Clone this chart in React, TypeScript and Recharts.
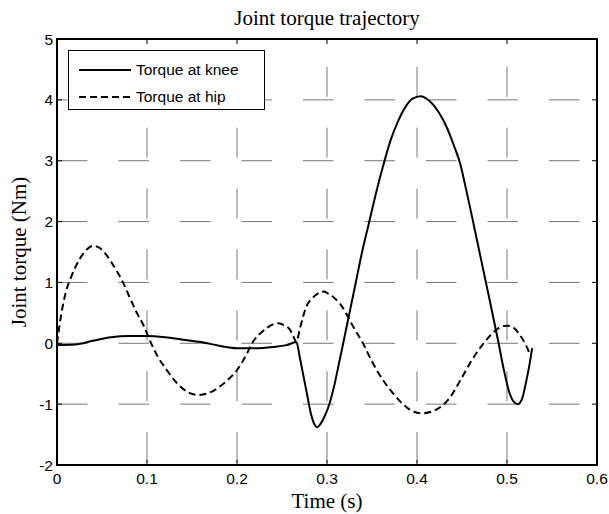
import {
  CartesianGrid,
  Label,
  Legend,
  Line,
  LineChart,
  ReferenceArea,
  XAxis,
  YAxis,
} from "recharts";

const xTicks = [0, 0.1, 0.2, 0.3, 0.4, 0.5, 0.6];
const yTicks = [-2, -1, 0, 1, 2, 3, 4, 5];

const kneeTime = [
  0, 0.02, 0.04, 0.06, 0.08, 0.1, 0.12, 0.14, 0.16, 0.18, 0.2, 0.22, 0.24,
  0.255, 0.266, 0.27, 0.274, 0.278, 0.282, 0.286, 0.289, 0.293, 0.298, 0.303,
  0.308, 0.313, 0.318, 0.325, 0.332, 0.339, 0.347, 0.355, 0.363, 0.371, 0.379,
  0.387, 0.395, 0.404, 0.414, 0.424, 0.433, 0.441, 0.448, 0.455, 0.462, 0.469,
  0.476, 0.483, 0.49, 0.496, 0.502, 0.508, 0.512, 0.517, 0.521, 0.525, 0.528,
];
const kneeTorque = [
  -0.03, -0.02, 0.04, 0.1, 0.12, 0.12, 0.1, 0.06, 0.02, -0.04, -0.08, -0.08,
  -0.06, -0.03, 0.02, -0.25, -0.55, -0.85, -1.15, -1.33, -1.38, -1.32, -1.18,
  -0.98, -0.7, -0.35, 0, 0.5, 1.0, 1.5, 2.0, 2.5, 2.95, 3.35, 3.65, 3.88, 4.02,
  4.06, 3.98, 3.8, 3.55, 3.25, 2.95, 2.5, 2.02, 1.53, 1.04, 0.55, 0.05, -0.4,
  -0.78, -0.97, -1.0, -0.9, -0.65, -0.35, -0.08,
];

const hipTime = [
  0, 0.005, 0.01, 0.016, 0.025, 0.033, 0.04, 0.047, 0.055, 0.063, 0.072, 0.08,
  0.088, 0.096, 0.104, 0.112, 0.122, 0.13, 0.137, 0.145, 0.157, 0.168, 0.181,
  0.19, 0.2, 0.21, 0.218, 0.225, 0.233, 0.24, 0.246, 0.252, 0.259, 0.263,
  0.266, 0.27, 0.277, 0.285, 0.29, 0.296, 0.303, 0.31, 0.316, 0.323, 0.33,
  0.34, 0.35, 0.362, 0.375, 0.39, 0.405, 0.42, 0.435, 0.4485, 0.46, 0.474,
  0.485, 0.493, 0.5, 0.507, 0.515, 0.52, 0.526,
];
const hipTorque = [
  0, 0.5, 0.85, 1.1, 1.38, 1.54, 1.6, 1.57, 1.45, 1.27, 1.04, 0.78, 0.52, 0.3,
  0.02, -0.22, -0.44, -0.6, -0.71, -0.8, -0.85, -0.82, -0.71, -0.6, -0.44,
  -0.2, 0.03, 0.15, 0.25, 0.31, 0.33, 0.3, 0.22, 0.1, 0.02, 0.25, 0.6, 0.76,
  0.82, 0.85, 0.8, 0.72, 0.62, 0.44, 0.25, 0, -0.3, -0.6, -0.85, -1.07, -1.15,
  -1.1, -0.92, -0.6, -0.3, 0, 0.18, 0.27, 0.29, 0.26, 0.12, 0, -0.2,
];

const kneeData = kneeTime.map((t, i) => ({ t, v: kneeTorque[i] }));
const hipData = hipTime.map((t, i) => ({ t, v: hipTorque[i] }));

const series = [
  { key: "knee", name: "Torque at knee", data: kneeData, dash: undefined },
  { key: "hip", name: "Torque at hip", data: hipData, dash: "7 4" },
];

const SANS = "'Liberation Sans', Arial, sans-serif";
const SERIF = "'Liberation Serif', 'Times New Roman', serif";

// plot box edges (chart is 609x514, margins below)
const TOP = 39;
const BOTTOM = 465;
const LEFT = 57;
const RIGHT = 597;
const TICK = 5;

function XTick(props: any) {
  const { x, payload } = props;
  return (
    <g>
      <line x1={x} x2={x} y1={BOTTOM} y2={BOTTOM - TICK} stroke="#000" />
      <line x1={x} x2={x} y1={TOP} y2={TOP + TICK} stroke="#000" />
      <text
        x={x}
        y={BOTTOM + 19}
        textAnchor="middle"
        fontFamily={SANS}
        fontSize={15.5}
        fill="#000"
      >
        {payload.value}
      </text>
    </g>
  );
}

function YTick(props: any) {
  const { y, payload } = props;
  return (
    <g>
      <line x1={LEFT} x2={LEFT + TICK} y1={y} y2={y} stroke="#000" />
      <line x1={RIGHT} x2={RIGHT - TICK} y1={y} y2={y} stroke="#000" />
      <text
        x={LEFT - 4}
        y={y + 5.5}
        textAnchor="end"
        fontFamily={SANS}
        fontSize={15.5}
        fill="#000"
      >
        {payload.value}
      </text>
    </g>
  );
}

function LegendBox() {
  return (
    <div
      style={{
        width: 197,
        height: 60,
        boxSizing: "border-box",
        border: "1.5px solid #000",
        background: "#fff",
        position: "relative",
        fontFamily: SANS,
        fontSize: 15.5,
        color: "#000",
      }}
    >
      {series.map((s, i) => (
        <div
          key={s.key}
          style={{
            position: "absolute",
            left: 0,
            top: 9 + i * 27,
            height: 20,
            display: "flex",
            alignItems: "center",
            whiteSpace: "nowrap",
          }}
        >
          <svg width={62} height={20}>
            <line
              x1={10}
              x2={62}
              y1={10}
              y2={10}
              stroke="#000"
              strokeWidth={2}
              strokeDasharray={s.dash}
            />
          </svg>
          <span style={{ marginLeft: 5, lineHeight: "20px" }}>{s.name}</span>
        </div>
      ))}
    </div>
  );
}

export default function App() {
  return (
    <div
      style={{
        position: "absolute",
        left: 0,
        top: 0,
        width: 609,
        height: 514,
        background: "#fff",
      }}
    >
      <div
        style={{
          position: "absolute",
          left: LEFT,
          width: RIGHT - LEFT,
          top: 8,
          textAlign: "center",
          fontFamily: SERIF,
          fontSize: 21,
          lineHeight: "21px",
          color: "#000",
        }}
      >
        Joint torque trajectory
      </div>
      <LineChart
        width={609}
        height={514}
        margin={{ top: TOP, right: 609 - RIGHT, bottom: 0, left: 0 }}
      >
        <CartesianGrid
          vertical={false}
          stroke="#777"
          strokeDasharray="30.5 31"
        />
        <CartesianGrid
          horizontal={false}
          stroke="#777"
          strokeDasharray="30 30.86"
          strokeDashoffset={33}
        />
        <XAxis
          type="number"
          dataKey="t"
          domain={[0, 0.6]}
          ticks={xTicks}
          allowDataOverflow
          height={514 - BOTTOM}
          axisLine={false}
          tickLine={false}
          tick={(p: any) => <XTick {...p} />}
        >
          <Label
            value="Time (s)"
            position="insideBottom"
            offset={6}
            style={{ fontFamily: SERIF, fontSize: 21, fill: "#000" }}
          />
        </XAxis>
        <YAxis
          type="number"
          domain={[-2, 5]}
          ticks={yTicks}
          allowDataOverflow
          width={LEFT}
          axisLine={false}
          tickLine={false}
          tick={(p: any) => <YTick {...p} />}
        >
          <Label
            value="Joint torque (Nm)"
            angle={-90}
            position="insideLeft"
            offset={18.5}
            style={{
              fontFamily: SERIF,
              fontSize: 21,
              fill: "#000",
              textAnchor: "middle",
            }}
          />
        </YAxis>
        {series.map((s) => (
          <Line
            key={s.key}
            data={s.data}
            dataKey="v"
            name={s.name}
            type="monotone"
            stroke="#000"
            strokeWidth={2}
            strokeDasharray={s.dash}
            dot={false}
            activeDot={false}
            isAnimationActive={false}
          />
        ))}
        <ReferenceArea
          x1={0}
          x2={0.6}
          y1={-2}
          y2={5}
          fill="none"
          stroke="#000"
          strokeWidth={2}
          ifOverflow="visible"
        />
        <Legend
          layout="vertical"
          align="center"
          verticalAlign="middle"
          wrapperStyle={{ left: 68, top: 50, width: 197, height: 60 }}
          content={() => <LegendBox />}
        />
      </LineChart>
    </div>
  );
}
